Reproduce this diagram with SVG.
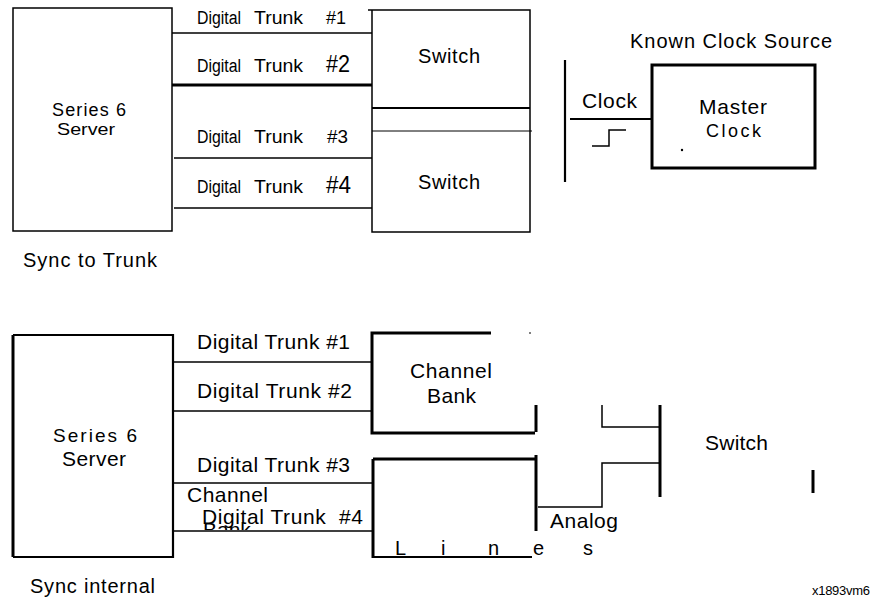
<svg xmlns="http://www.w3.org/2000/svg" width="882" height="607" viewBox="0 0 882 607">
<style>
text{font-family:"Liberation Sans",Arial,sans-serif;fill:#000}
.ln{stroke:#000;fill:none;stroke-width:1.5}
.th{stroke:#000;fill:none;stroke-width:3}
.md{stroke:#000;fill:none;stroke-width:2.2}
.dt{font-size:18px}
.t21{font-size:21px}
</style>
<defs>
<clipPath id="bankClip"><rect x="180" y="500" width="100" height="30"/></clipPath>
</defs>
<rect width="882" height="607" fill="#fff"/>

<!-- Top diagram -->
<g id="server1">
<rect x="13" y="8" width="159" height="223" class="ln"/>
<text x="52" y="116" font-size="18" textLength="74">Series 6</text>
<text x="57" y="135" font-size="17" textLength="58" lengthAdjust="spacingAndGlyphs">Server</text>
</g>
<g id="switch1">
<path d="M368 10H530V232H372V10" class="ln"/>
<line x1="372" y1="108" x2="530" y2="108" class="md"/>
<line x1="372" y1="131" x2="532" y2="131" stroke="#000" stroke-width="1"/>
<text x="418" y="63" font-size="20" textLength="62">Switch</text>
<text x="418" y="189" font-size="20" textLength="62">Switch</text>
</g>
<g id="masterclock">
<rect x="652" y="65" width="163" height="103" class="th"/>
<text x="699" y="114" class="t21" textLength="68">Master</text>
<text x="706" y="137" font-size="18" textLength="55">Clock</text>
<circle cx="682" cy="150" r="1.2" fill="#000"/>
<text x="630" y="48" font-size="20" textLength="202">Known Clock Source</text>
</g>
<g id="clockbus">
<line x1="565" y1="60" x2="565" y2="182" class="md"/>
<text x="582" y="108" class="t21" textLength="55">Clock</text>
<polyline points="592,146 609,146 609,130 626,130" class="ln"/>
</g>
<g id="trunklabels1">
<text x="197" y="24" class="dt" textLength="44" lengthAdjust="spacingAndGlyphs">Digital</text>
<text x="254" y="24" class="dt" textLength="49" lengthAdjust="spacingAndGlyphs">Trunk</text>
<text x="326" y="24" font-size="19" textLength="20" lengthAdjust="spacingAndGlyphs">#1</text>
<text x="197" y="72" class="dt" textLength="44" lengthAdjust="spacingAndGlyphs">Digital</text>
<text x="254" y="72" class="dt" textLength="49" lengthAdjust="spacingAndGlyphs">Trunk</text>
<text x="326" y="72" font-size="23" textLength="24" lengthAdjust="spacingAndGlyphs">#2</text>
<text x="197" y="143" class="dt" textLength="44" lengthAdjust="spacingAndGlyphs">Digital</text>
<text x="254" y="143" class="dt" textLength="49" lengthAdjust="spacingAndGlyphs">Trunk</text>
<text x="327" y="143" font-size="19" textLength="21" lengthAdjust="spacingAndGlyphs">#3</text>
<text x="197" y="193" class="dt" textLength="44" lengthAdjust="spacingAndGlyphs">Digital</text>
<text x="254" y="193" class="dt" textLength="49" lengthAdjust="spacingAndGlyphs">Trunk</text>
<text x="326" y="193" font-size="23" textLength="25" lengthAdjust="spacingAndGlyphs">#4</text>
</g>
<text x="23" y="267" font-size="20" textLength="134">Sync to Trunk</text>

<!-- Bottom diagram -->
<g id="server2">
<path d="M13 335V557" class="th"/>
<path d="M13 335H173V557H13" class="md"/>
<text x="53" y="442" font-size="19" textLength="84">Series 6</text>
<text x="62" y="466" class="t21" textLength="64">Server</text>
</g>
<g id="channelbank1">
<polyline points="491,333 372,333 372,433 535,433" class="th"/>
<line x1="536" y1="405" x2="536" y2="432" class="th"/>
<circle cx="530" cy="333" r="1" fill="#555"/>
<text x="410" y="378" class="t21" textLength="82">Channel</text>
<text x="427" y="403" class="t21" textLength="49">Bank</text>
</g>
<g id="channelbank2">
<polyline points="373,459 536,459" class="th"/>
<line x1="373" y1="459" x2="373" y2="558" class="th"/>
<line x1="373" y1="557" x2="532" y2="557" class="md"/>
<line x1="536" y1="455" x2="536" y2="531" class="th"/>
<text x="187" y="502" class="t21" textLength="81">Channel</text>
<text x="203" y="537" class="t21" clip-path="url(#bankClip)">Bank</text>
</g>
<g id="switch2">
<line x1="660" y1="405" x2="660" y2="497" class="th"/>
<text x="705" y="450" class="t21" textLength="63">Switch</text>
<line x1="813" y1="470" x2="813" y2="493" class="th"/>
</g>
<g id="trunklabels2">
<text x="197" y="349" class="t21" textLength="153">Digital Trunk #1</text>
<text x="197" y="398" class="t21" textLength="155">Digital Trunk #2</text>
<text x="197" y="472" class="t21" textLength="153">Digital Trunk #3</text>
<text x="202" y="524" class="t21" textLength="161" xml:space="preserve">Digital Trunk  #4</text>
</g>
<g id="lineslabel" font-size="20">
<text x="395" y="555">L</text>
<text x="441" y="555">i</text>
<text x="488" y="555">n</text>
<text x="533" y="555">e</text>
<text x="583" y="555">s</text>
</g>
<text x="550" y="528" class="t21" textLength="68">Analog</text>
<text x="30" y="593" font-size="20" textLength="125">Sync internal</text>
<text x="812" y="595" font-size="13" textLength="58">x1893vm6</text>

<g id="connectors">
<line x1="172" y1="33" x2="372" y2="33" class="ln"/>
<line x1="172" y1="85" x2="372" y2="85" class="th"/>
<line x1="174" y1="158" x2="372" y2="158" class="ln"/>
<line x1="174" y1="208" x2="372" y2="208" class="ln"/>
<line x1="570" y1="119" x2="652" y2="119" class="md"/>
<line x1="173" y1="362" x2="372" y2="362" class="ln"/>
<line x1="173" y1="411" x2="372" y2="411" class="ln"/>
<line x1="173" y1="483" x2="373" y2="483" class="ln"/>
<line x1="173" y1="531" x2="373" y2="531" class="ln"/>
<polyline points="538,507 602,507 602,463 660,463" class="ln"/>
<polyline points="602,405 602,427 660,427" class="ln"/>
</g>
</svg>
